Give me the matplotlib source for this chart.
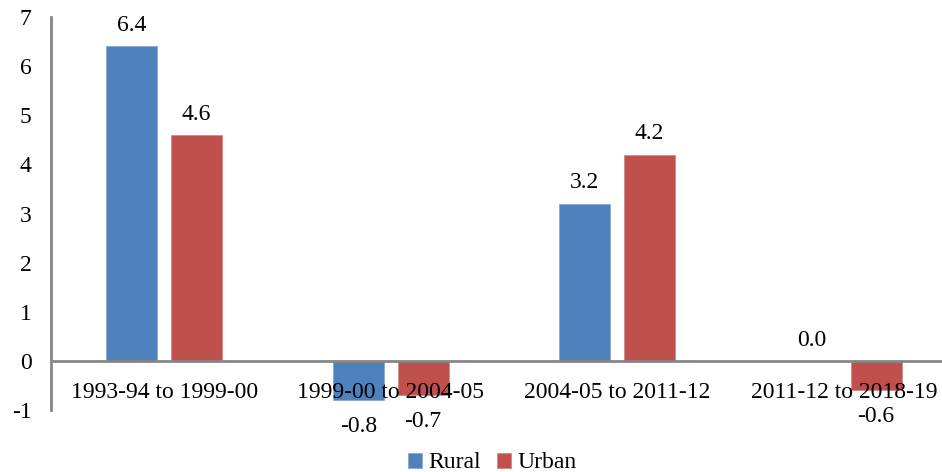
import matplotlib
matplotlib.use("Agg")
import matplotlib.pyplot as plt
import numpy as np

categories = ["1993-94 to 1999-00", "1999-00 to 2004-05", "2004-05 to 2011-12", "2011-12 to 2018-19"]
rural = [6.4, -0.8, 3.2, 0.0]
urban = [4.6, -0.7, 4.2, -0.6]
y_ticks = [-1, 0, 1, 2, 3, 4, 5, 6, 7]

plt.rcParams['font.family'] = ['Liberation Serif', 'DejaVu Serif']

W, H = 942, 472
FS = 17
fig = plt.figure(figsize=(W / 100, H / 100), dpi=100)
ax = fig.add_axes([51 / W, 1 - 410 / H, 906 / W, 393 / H])

x = np.arange(len(categories))
bw = 0.225
off = 0.143
blue = "#4F81BD"
red = "#C0504D"
b1 = ax.bar(x - off, rural, bw, color=blue, edgecolor="#8EA9CF", linewidth=0.6, label="Rural", zorder=2)
b2 = ax.bar(x + off, urban, bw, color=red, edgecolor="#D08A88", linewidth=0.6, label="Urban", zorder=2)

ax.set_xlim(-0.5, 3.5)
ax.set_ylim(-1, 7)
ax.set_yticks(y_ticks)
ax.set_yticklabels([str(t) for t in y_ticks], fontsize=FS)
ax.tick_params(axis='y', length=0, pad=14)
ax.set_xticks([])

for s in ['top', 'right', 'bottom']:
    ax.spines[s].set_visible(False)
ax.spines['left'].set_color('#868686')
ax.spines['left'].set_linewidth(2)
ax.axhline(0, color='#868686', linewidth=2, zorder=3)

for xi, lab in zip(x, categories):
    ax.annotate(lab, (xi, 0), xytext=(0, -15), textcoords='offset points',
                ha='center', va='top', fontsize=FS, zorder=5)

def label_bars(xs, vals):
    for xi, v in zip(xs, vals):
        if v >= 0:
            ax.annotate(f"{v:.1f}", (xi, v), xytext=(0, 15), textcoords='offset points',
                        ha='center', va='center', fontsize=FS, zorder=5)
        else:
            ax.annotate(f"{v:.1f}", (xi, v), xytext=(0, -19), textcoords='offset points',
                        ha='center', va='center', fontsize=FS, zorder=5)

label_bars(x - off, rural)
label_bars(x + off, urban)

fig.legend(handles=[b1, b2], labels=["Rural", "Urban"], loc='center',
           bbox_to_anchor=(492 / W, 1 - 463 / H), ncol=2, frameon=False,
           fontsize=FS, handlelength=0.6, handleheight=0.6, handletextpad=0.25,
           columnspacing=0.7)

fig.savefig("out.png", dpi=100)
